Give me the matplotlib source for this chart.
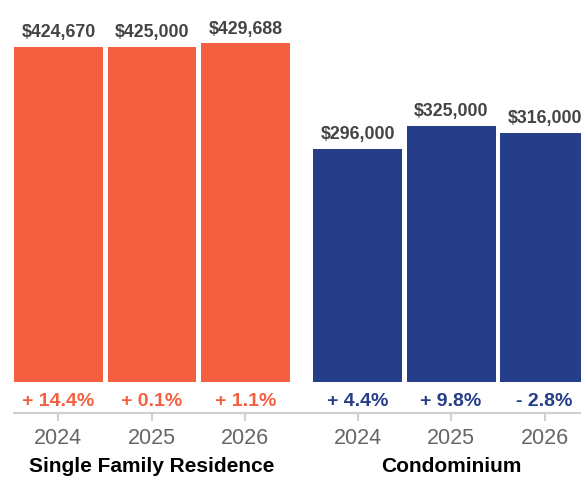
import numpy as np
import matplotlib.pyplot as plt

plt.rcParams['font.family'] = ['Liberation Sans', 'DejaVu Sans']

years = ['2024', '2025', '2026']
groups = ['Single Family Residence', 'Condominium']
sfr_values = [424670, 425000, 429688]
condo_values = [296000, 325000, 316000]
sfr_changes = ['+ 14.4%', '+ 0.1%', '+ 1.1%']
condo_changes = ['+ 4.4%', '+ 9.8%', '- 2.8%']

orange = '#F4603F'
navy = '#263E8A'

# pixel scale of the reference: 335 px for $424,670
unit = 424670 / 335.0

fig = plt.figure(figsize=(5.81, 4.80), dpi=100)
ax = fig.add_axes([14 / 581, (480 - 413) / 480, (581 - 14) / 581, 403 / 480])

x_sfr = np.array([0, 1, 2])
x_condo = np.array([3.2, 4.2, 5.2])
width = 0.95

ax.bar(x_sfr, sfr_values, width=width, color=orange)
ax.bar(x_condo, condo_values, width=width, color=navy)

for xs, vals, chg, col in [(x_sfr, sfr_values, sfr_changes, orange),
                           (x_condo, condo_values, condo_changes, navy)]:
    for x, v, c in zip(xs, vals, chg):
        ax.text(x, v + 14 * unit, '${:,}'.format(v), ha='center', va='center',
                fontsize=12.8, fontweight='bold', color='#444444')
        ax.text(x, -20 * unit, c, ha='center', va='center',
                fontsize=14, fontweight='bold', color=col)

ax.text(1, -85 * unit, groups[0], ha='center', va='center',
        fontsize=15, fontweight='bold', color='black', clip_on=False)
ax.text(4.2, -85 * unit, groups[1], ha='center', va='center',
        fontsize=15, fontweight='bold', color='black', clip_on=False)

ax.set_xlim(-width / 2, 5.589)
ax.set_ylim(-31 * unit, 372 * unit)

ax.set_xticks(np.concatenate([x_sfr, x_condo]))
ax.set_xticklabels(years + years, fontsize=15.5, color='#666666')
ax.tick_params(axis='x', length=6, width=1.5, color='#d0d0d0', pad=5)
ax.set_yticks([])
for s in ['top', 'right', 'left']:
    ax.spines[s].set_visible(False)
ax.spines['bottom'].set_color('#d0d0d0')
ax.spines['bottom'].set_linewidth(1.5)

fig.savefig('out.png', dpi=100)
